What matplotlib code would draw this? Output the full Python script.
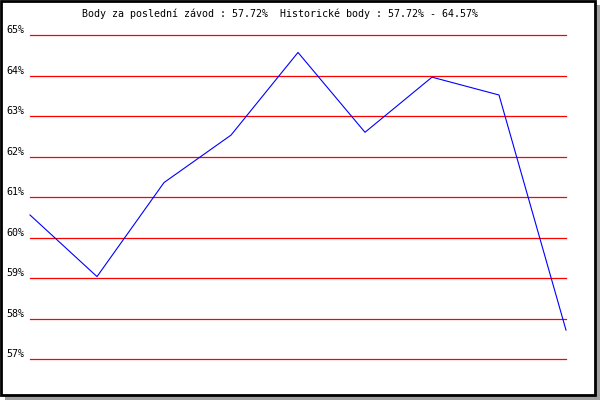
import matplotlib
matplotlib.use("Agg")
import matplotlib.pyplot as plt
from matplotlib.patches import Rectangle
from matplotlib.transforms import ScaledTranslation

# hodnoty z grafu
races = list(range(1, 10))
points = [60.56, 59.04, 61.36, 62.53, 64.57, 62.60, 63.96, 63.52, 57.72]
levels = [57, 58, 59, 60, 61, 62, 63, 64, 65]
level_labels = ["57%", "58%", "59%", "60%", "61%", "62%", "63%", "64%", "65%"]
title = "Body za poslední závod : 57.72%  Historické body : 57.72% - 64.57%"

W, H = 600, 400
fig = plt.figure(figsize=(6, 4), dpi=100)
fig.patch.set_facecolor("white")

def px(x0, y0, w, h):
    # pixel box (top-left origin) -> figure fraction
    return (x0 / W, 1 - (y0 + h) / H), w / W, h / H

# stin a ramecek
for box in [(596, 5, 4, 395), (5, 396, 595, 4)]:
    xy, w, h = px(*box)
    fig.add_artist(Rectangle(xy, w, h, transform=fig.transFigure,
                             facecolor="#a0a0a0", edgecolor="none"))
xy, w, h = px(1, 1, 594, 394)
fig.add_artist(Rectangle(xy, w, h, transform=fig.transFigure,
                         facecolor="none", edgecolor="black", linewidth=2.0))

ax = fig.add_axes([30 / W, 1 - 359.3 / H, 536 / W, (359.3 - 35) / H])
ax.set_xlim(races[0], races[-1])
ax.set_ylim(levels[0], levels[-1])
ax.patch.set_alpha(0)
for s in ax.spines.values():
    s.set_visible(False)

for lv in levels:
    ax.axhline(lv, color="#ff0000", linewidth=0.9, zorder=1, clip_on=False)

ax.plot(races, points, color="#0000ff", linewidth=0.8, zorder=2, clip_on=False)

ax.set_xticks([])
ax.set_yticks(levels, level_labels)
ax.tick_params(axis="y", length=0, pad=4, labelsize=7.2)
for lbl in ax.get_yticklabels():
    lbl.set_fontfamily("DejaVu Sans Mono")
    lbl.set_transform(lbl.get_transform() + ScaledTranslation(0, 0.06, fig.dpi_scale_trans))

fig.text(82 / W, 1 - 14 / H, title, ha="left", va="center",
         fontsize=7.2, family="DejaVu Sans Mono")

plt.savefig("out.png", dpi=100)
